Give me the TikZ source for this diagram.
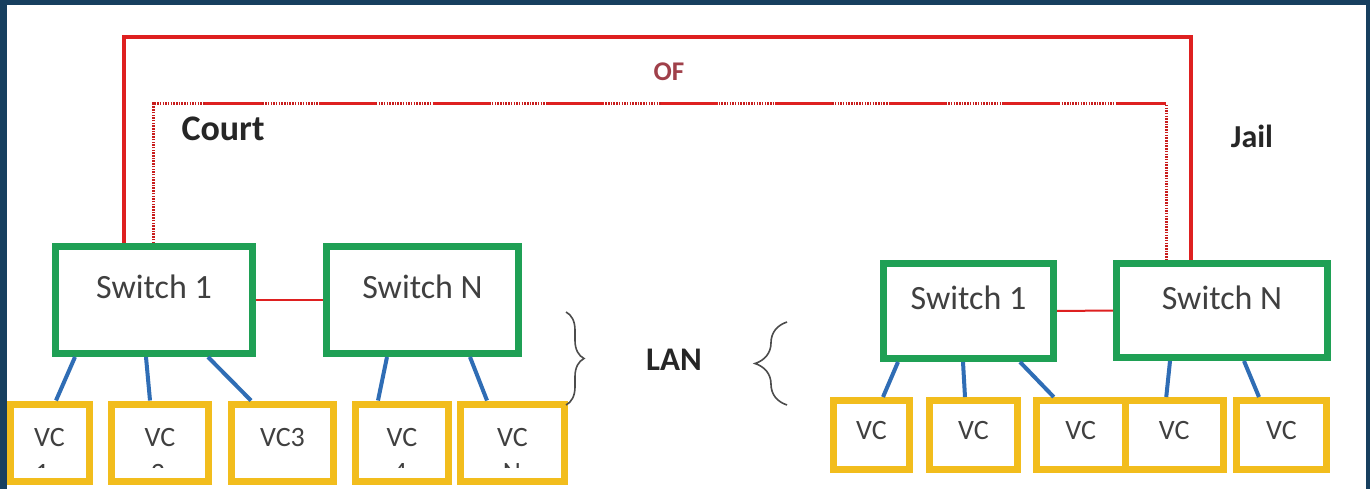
\documentclass[tikz,border=0pt]{standalone}
\usepackage{fontspec}
\setmainfont{Carlito}
\usetikzlibrary{decorations.pathreplacing}
\definecolor{framebg}{HTML}{173F5F}
\definecolor{link}{HTML}{DE2020}
\definecolor{swgreen}{HTML}{1FA055}
\definecolor{vcyellow}{HTML}{F2BD1D}
\definecolor{wire}{HTML}{2F6DB5}
\definecolor{ink}{HTML}{404040}
\definecolor{oftext}{HTML}{A0404A}

\tikzset{
    switchbox/.style={draw=swgreen, line width=7pt, fill=white, text=ink, inner sep=0pt,
        font=\fontsize{34}{40}\selectfont, text height=24pt, text depth=27pt},
    vcbox/.style={draw=vcyellow, line width=7pt, text=ink, inner sep=0pt,
        font=\fontsize{28}{32}\selectfont, text height=20pt, text depth=12pt},
    vcdigit/.style={text=ink, inner sep=0pt, font=\fontsize{28}{32}\selectfont},
    wireline/.style={wire, line width=4pt},
    swlink/.style={link, line width=2pt},
    ofline/.style={link, line width=3.5pt},
    ofdots/.style={link!90!black, line width=3pt, dash pattern=on 1.5pt off 1.2pt},
    ofsolid/.style={link, line width=3pt, dash pattern=on 57pt off 57pt, dash phase=62pt},
    lanbrace/.style={draw=black!70, line width=1.6pt, decorate},
    place/.style={text=black!85, inner sep=0pt, font=\fontsize{#1}{#1}\selectfont\bfseries}
}

\begin{document}
\begin{tikzpicture}[x=1pt, y=-1pt]
    \useasboundingbox (0,0) rectangle (1370,489);
    \fill [framebg] (0,0) rectangle (1370,489);
    \fill [white] (7,5) rectangle (1366,489);
    \begin{scope}
    \clip (7,5) rectangle (1366,489);

    \node[switchbox, minimum width=197pt, minimum height=107pt] (lsw1) at (154,300) {Switch 1};
    \node[switchbox, minimum width=192pt, minimum height=107pt] (lswn) at (422.5,300) {Switch N};
    \node[switchbox, minimum width=170pt, minimum height=95pt] (rsw1) at (968.5,311) {Switch 1};
    \node[switchbox, minimum width=211pt, minimum height=94pt] (rswn) at (1222,310.5) {Switch N};

    \node[vcbox, minimum width=79pt, minimum height=77pt] (vc1) at (49.5,442.5) {VC};
    \node[vcbox, minimum width=97pt, minimum height=77pt] (vc2) at (160,442.5) {VC};
    \node[vcbox, minimum width=102pt, minimum height=77pt] (vc3) at (282.5,442.5) {VC3};
    \node[vcbox, minimum width=93pt, minimum height=77pt] (vc4) at (402,442.5) {VC};
    \node[vcbox, minimum width=104pt, minimum height=77pt] (vc5) at (512.5,442.5) {VC};

    \node[vcbox, minimum width=76pt, minimum height=69pt] (vca) at (871.5,435) {VC};
    \node[vcbox, minimum width=88.5pt, minimum height=69pt] (vcb) at (973.5,435) {VC};
    \node[vcbox, minimum width=88.5pt, minimum height=69pt] (vcc) at (1080.75,435) {VC};
    \node[vcbox, minimum width=98.5pt, minimum height=69pt] (vcd) at (1174.25,435) {VC};
    \node[vcbox, minimum width=90pt, minimum height=69pt] (vce) at (1281.5,435) {VC};

    \begin{scope}
    \clip (0,0) rectangle (1370,467);
    \node[vcdigit] (d1) at (42,473) {1};
    \node[vcdigit] (d2) at (158,473) {2};
    \node[vcdigit] (d4) at (400,473) {4};
    \node[vcdigit] (dn) at (512,473) {N};
    \end{scope}

    \coordinate (of1) at (124,37);
    \coordinate (of2) at (1191,37);
    \coordinate (in1) at (153,104);
    \coordinate (in2) at (1166,104);
    \draw[ofline] (lsw1.north -| of1) |- (of2) -- (rswn.north -| of2);
    \draw[ofdots] (lsw1.north -| in1) |- (in2) -- (rswn.north -| in2);
    \draw[ofsolid] (in1) -- (in2);

    \draw[swlink] (lsw1.east) -- (lswn.west);
    \draw[swlink] (rsw1.east) -- (rswn.west);

    \draw[wireline] ([xshift=-79pt]lsw1.south) -- ([xshift=6.5pt]vc1.north);
    \draw[wireline] ([xshift=-8pt]lsw1.south) -- ([xshift=-10pt]vc2.north);
    \draw[wireline] ([xshift=54pt]lsw1.south) -- ([xshift=-31.5pt]vc3.north);
    \draw[wireline] ([xshift=-35.5pt]lswn.south) -- ([xshift=-24pt]vc4.north);
    \draw[wireline] ([xshift=47.5pt]lswn.south) -- ([xshift=-25.5pt]vc5.north);
    \draw[wireline] ([xshift=-70.5pt]rsw1.south) -- ([xshift=11.5pt]vca.north);
    \draw[wireline] ([xshift=-5.5pt]rsw1.south) -- ([xshift=-8.5pt]vcb.north);
    \draw[wireline] ([xshift=51.5pt]rsw1.south) -- ([xshift=-27pt]vcc.north);
    \draw[wireline] ([xshift=-52pt]rswn.south) -- ([xshift=-8pt]vcd.north);
    \draw[wireline] ([xshift=22pt]rswn.south) -- ([xshift=-22.5pt]vce.north);

    \draw[lanbrace, decoration={brace, amplitude=18pt}] (566,312) -- (566,405);
    \draw[lanbrace, decoration={brace, amplitude=32pt}] (787,405) -- (787,322);

    \node[place=36] (court) at (223,129) {Court};
    \node[place=32] (jail) at (1252,136) {Jail};
    \node[place=33] (lan) at (674,360) {LAN};
    \node[place=27, text=oftext] (of) at (669,72) {OF};
    \end{scope}
\end{tikzpicture}
\end{document}
